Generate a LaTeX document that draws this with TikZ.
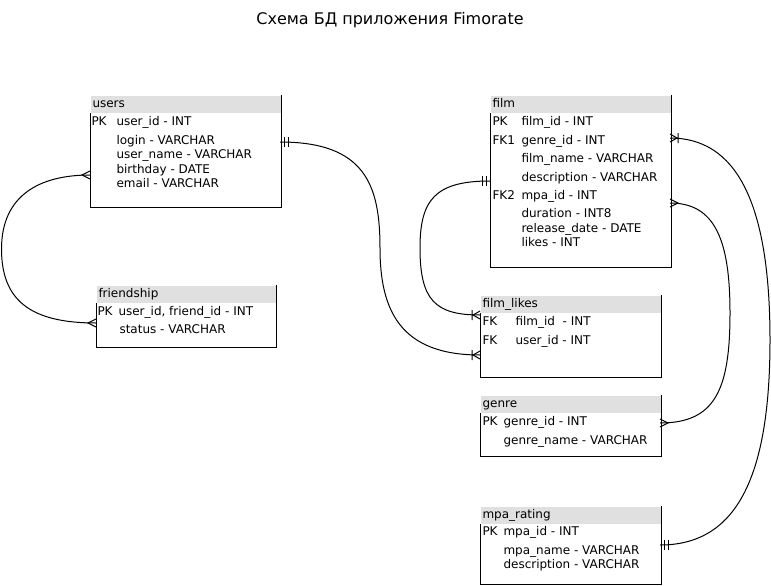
\documentclass[tikz,border=0pt]{standalone}
\usepackage{fontspec}
\setmainfont{DejaVu Sans}
\definecolor{headgray}{RGB}{224,224,224}
\tikzset{
  erMany/.pic={\draw (0,-4) -- (8,0) -- (0,4);},
  erOneMany/.pic={\draw (0,-4) -- (7,0) -- (0,4) (8,-5) -- (8,5);},
  erOne/.pic={\draw (4,-5) -- (4,5) (8,-5) -- (8,5);}
}
\begin{document}
\begin{tikzpicture}
          [x=1pt,y=-1pt,line width=1pt,every node/.style={anchor=west, inner sep=0pt, text height=9pt, text depth=3pt, font=\fontsize{12}{14}\selectfont},
           head/.style={fill=headgray, anchor=north west, inner xsep=2pt, minimum height=17, text width=#1},
           body/.style={anchor=north west, minimum width=#1, text height=, text depth=}]
        \useasboundingbox (0,0) rectangle (771,586);
        \node[anchor=center, text height=, text depth=, font=\fontsize{16}{19}\selectfont] (title) at (390,20) {Схема БД приложения Fimorate};

        % users
        \node[head=186] (usersH) at (90,95) {users};
        \node[body=190, minimum height=93] (usersB) at (usersH.south west) {};
        \draw (usersB.north west) |- (usersB.south east) -- (usersH.north east);
        \node (usersPK) at (91,122) {PK};
        \node (usersId) at (116,122) {user\_id - INT};
        \foreach \y/\t in {141/login - VARCHAR, 155/user\_name - VARCHAR, 170/birthday - DATE, 184/email - VARCHAR}
          \node (users\y) at (116,\y) {\t};

        % friendship
        \node[head=175] (friendH) at (96,285) {friendship};
        \node[body=179, minimum height=43] (friendB) at (friendH.south west) {};
        \draw (friendB.north west) |- (friendB.south east) -- (friendH.north east);
        \node (friendPK) at (97,312) {PK};
        \node (friendId) at (118,312) {user\_id, friend\_id - INT};
        \node (friendSt) at (119,330) {status - VARCHAR};

        % film
        \node[head=176] (filmH) at (490,95) {film};
        \node[body=180, minimum height=153] (filmB) at (filmH.south west) {};
        \draw (filmB.north west) |- (filmB.south east) -- (filmH.north east);
        \foreach \y/\k in {122/PK, 141/FK1, 196/FK2}
          \node (filmK\y) at (492,\y) {\k};
        \foreach \y/\t in {122/film\_id - INT, 141/genre\_id - INT, 159/film\_name - VARCHAR, 178/description - VARCHAR,
                           196/mpa\_id - INT, 214/duration - INT8, 229/release\_date - DATE, 243/likes - INT}
          \node (film\y) at (521,\y) {\t};

        % film_likes
        \node[head=176] (likesH) at (480,295) {film\_likes};
        \node[body=180, minimum height=63] (likesB) at (likesH.south west) {};
        \draw (likesB.north west) |- (likesB.south east) -- (likesH.north east);
        \foreach \y/\t in {322/film\_id\ \ - INT, 341/user\_id - INT}
        {
          \node (likesK\y) at (482,\y) {FK};
          \node (likes\y) at (515,\y) {\t};
        }

        % genre
        \node[head=176] (genreH) at (480,395) {genre};
        \node[body=180, minimum height=42] (genreB) at (genreH.south west) {};
        \draw (genreB.north west) |- (genreB.south east) -- (genreH.north east);
        \node (genrePK) at (482,422) {PK};
        \node (genreId) at (503,422) {genre\_id - INT};
        \node (genreName) at (503,441) {genre\_name - VARCHAR};

        % mpa_rating
        \node[head=176] (mpaH) at (480,506) {mpa\_rating};
        \node[body=180, minimum height=59] (mpaB) at (mpaH.south west) {};
        \draw (mpaB.north west) |- (mpaB.south east) -- (mpaH.north east);
        \node (mpaPK) at (482,532) {PK};
        \node (mpaId) at (503,532) {mpa\_id - INT};
        \node (mpaName) at (503,551) {mpa\_name - VARCHAR};
        \node (mpaDesc) at (503,565) {description - VARCHAR};

        % links
        \coordinate (usersR) at (280,142);
        \coordinate (usersL) at (90,175);
        \coordinate (friendL) at (96,323);
        \coordinate (filmL) at (490,181);
        \coordinate (filmR1) at (670,138);
        \coordinate (filmR2) at (670,203);
        \coordinate (likesL1) at (480,315);
        \coordinate (likesL2) at (480,355);
        \coordinate (genreR) at (660,423);
        \coordinate (mpaR) at (660,545);

        \draw (usersR) .. controls (365,142) and (380,185) .. (380,248) .. controls (380,310) and (400,355) .. (likesL2);
        \draw (usersL) .. controls (40,175) and (1.5,195) .. (1.5,249) .. controls (1.5,300) and (30,323) .. (friendL);
        \draw (filmL) .. controls (435,181) and (420,200) .. (420,248) .. controls (420,300) and (435,315) .. (likesL1);
        \draw (filmR1) .. controls (735,138) and (770,200) .. (770,340) .. controls (770,480) and (735,545) .. (mpaR);
        \draw (filmR2) .. controls (715,203) and (730,240) .. (730,313) .. controls (730,390) and (715,423) .. (genreR);

        \foreach \p/\s in {usersR/1, filmL/-1, mpaR/1}
          \pic[xscale=\s] at (\p) {erOne};
        \foreach \p/\s in {usersL/-1, friendL/-1, filmR2/1, genreR/1}
          \pic[xscale=\s] at (\p) {erMany};
        \foreach \p/\s in {likesL1/-1, likesL2/-1, filmR1/1}
          \pic[xscale=\s] at (\p) {erOneMany};
      \end{tikzpicture}
\end{document}
